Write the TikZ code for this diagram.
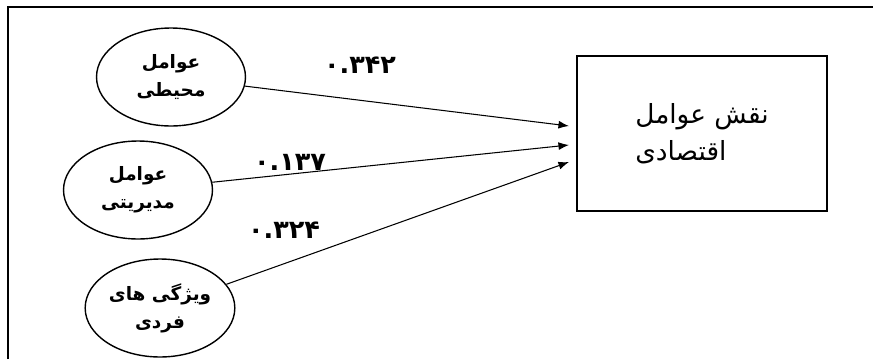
\documentclass[tikz,border=0pt]{standalone}
\usepackage{fontspec}
\usepackage{tikz}
\usetikzlibrary{shapes.geometric, arrows.meta}
\TeXXeTstate=1
\newfontfamily\arabicfont[Script=Arabic]{DejaVu Sans}
\tikzset{
    factor/.style={draw, ellipse, line width=0.8pt, minimum width=2.98cm, minimum height=1.96cm, inner sep=1pt, align=center, font=\arabicfont\bfseries\fontsize{10.5}{16}\selectfont},
    weight/.style={font=\arabicfont\bfseries\fontsize{14.5}{16}\selectfont},
    path/.style={-{Latex[length=6pt, width=4.5pt]}, line width=0.6pt}
}

\begin{document}
\begin{tikzpicture}[x=0.02cm, y=-0.02cm]
    \useasboundingbox (0, 0) rectangle (873, 359);
    \draw[line width=1.2pt] (8, 359) -- (8, 7) -- (873, 7);
    \node[factor] (env) at (171, 77) {\beginR عوامل\endR\\\beginR محیطی\endR};
    \node[factor] (mgmt) at (138, 190) {\beginR عوامل\endR\\\beginR مدیریتی\endR};
    \node[factor] (indiv) at (160, 308) {\beginR ویژگی های\endR\\\beginR فردی\endR};
    \node[draw, line width=0.9pt, minimum width=5cm, minimum height=3.1cm, align=left, font=\arabicfont\fontsize{15}{21}\selectfont] (econ) at (702, 133.5) {\beginR نقش عوامل\endR\\\beginR اقتصادی\endR};
    \coordinate (t1) at (569, 126);
    \coordinate (t2) at (569, 145);
    \coordinate (t3) at (569, 162);
    \draw[path] (env) -- (t1);
    \draw[path] (mgmt) -- (t2);
    \draw[path] (indiv) -- (t3);
    \node[weight] (w1) at (360, 65) {۰.۳۴۲};
    \node[weight] (w2) at (290, 162) {۰.۱۳۷};
    \node[weight] (w3) at (284, 230) {۰.۳۲۴};
    \end{tikzpicture}
\end{document}
